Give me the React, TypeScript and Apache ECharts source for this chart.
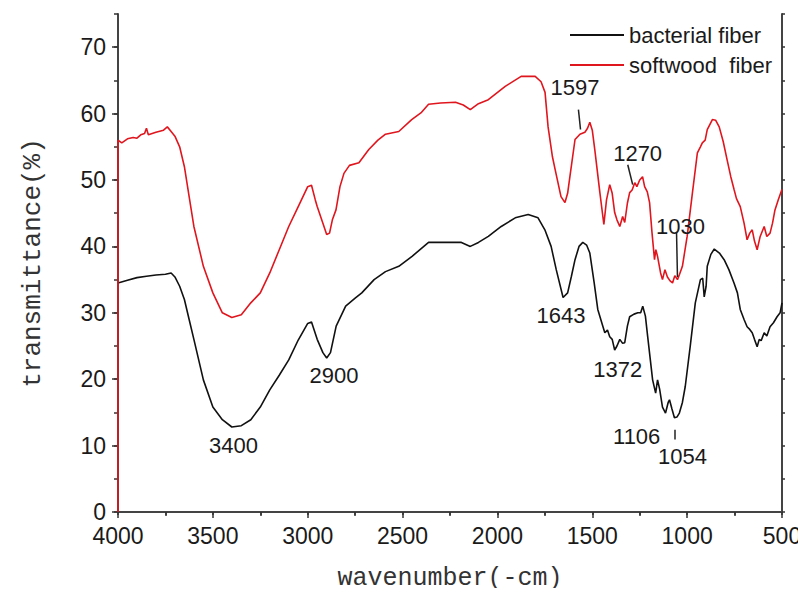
import React, { useEffect, useRef } from "react";
import * as echarts from "echarts";

// ---- data ----
const bacterialWn = [4000, 3950, 3900, 3850, 3800, 3750, 3720, 3700, 3675, 3650, 3625, 3600, 3550, 3500, 3450, 3400, 3350, 3300, 3250, 3200, 3150, 3100, 3050, 3000, 2980, 2950, 2920, 2900, 2880, 2850, 2800, 2750, 2715, 2650, 2590, 2520, 2450, 2363, 2300, 2190, 2143, 2100, 2048, 1980, 1906, 1838, 1786, 1750, 1717, 1690, 1654, 1630, 1610, 1591, 1570, 1550, 1530, 1513, 1490, 1471, 1450, 1434, 1420, 1408, 1395, 1382, 1370, 1355, 1340, 1329, 1315, 1303, 1280, 1260, 1245, 1234, 1220, 1208, 1182, 1166, 1156, 1145, 1130, 1114, 1100, 1093, 1080, 1067, 1054, 1041, 1025, 1010, 984, 957, 930, 918, 910, 900, 894, 875, 857, 830, 805, 780, 753, 735, 720, 700, 684, 670, 657, 645, 631, 620, 610, 594, 580, 563, 545, 526, 510, 500];
const bacterialT = [34.5, 34.9, 35.3, 35.5, 35.7, 35.8, 36.0, 35.4, 34.0, 32.0, 29.0, 26.0, 19.9, 15.8, 13.9, 12.8, 13.0, 13.9, 15.8, 18.4, 20.6, 22.9, 25.9, 28.4, 28.6, 26.0, 24.0, 23.2, 24.0, 28.0, 31.0, 32.2, 33.0, 35.0, 36.2, 37.0, 38.5, 40.6, 40.6, 40.6, 40.0, 40.6, 41.5, 43.0, 44.3, 44.8, 44.3, 42.5, 40.0, 36.5, 32.3, 33.0, 35.5, 38.0, 40.0, 40.6, 40.2, 39.0, 34.5, 30.5, 28.5, 27.0, 27.4, 26.4, 26.0, 24.4, 25.0, 26.0, 25.4, 25.5, 28.0, 29.4, 29.8, 30.0, 30.0, 31.0, 29.5, 26.4, 19.9, 17.9, 19.9, 18.5, 15.8, 14.9, 16.5, 16.9, 15.5, 14.2, 14.3, 14.9, 16.5, 18.9, 24.9, 31.5, 35.0, 35.2, 32.4, 34.0, 37.0, 38.8, 39.6, 39.0, 38.0, 36.5, 34.5, 33.0, 30.5, 29.0, 27.9, 27.5, 27.0, 26.0, 24.9, 26.0, 25.8, 27.0, 26.5, 27.9, 28.5, 29.4, 30.0, 31.5];

const softwoodWn = [4000, 4000, 3980, 3950, 3920, 3900, 3880, 3860, 3850, 3840, 3800, 3760, 3740, 3720, 3700, 3675, 3650, 3625, 3600, 3550, 3500, 3450, 3400, 3350, 3300, 3250, 3200, 3150, 3100, 3050, 3000, 2980, 2960, 2950, 2920, 2900, 2885, 2870, 2851, 2830, 2809, 2780, 2730, 2678, 2630, 2590, 2520, 2452, 2400, 2363, 2300, 2221, 2180, 2143, 2100, 2048, 1959, 1875, 1801, 1770, 1749, 1733, 1710, 1696, 1665, 1644, 1630, 1618, 1591, 1565, 1539, 1525, 1513, 1500, 1487, 1460, 1439, 1425, 1408, 1395, 1382, 1370, 1355, 1340, 1329, 1315, 1303, 1290, 1276, 1265, 1250, 1235, 1224, 1210, 1198, 1185, 1172, 1165, 1156, 1140, 1130, 1117, 1104, 1090, 1077, 1065, 1051, 1040, 1025, 1000, 972, 946, 930, 920, 905, 894, 867, 850, 831, 810, 789, 770, 753, 740, 720, 700, 684, 670, 657, 645, 631, 615, 594, 580, 563, 550, 537, 520, 500];
const softwoodT = [0, 56.0, 55.6, 56.2, 56.4, 56.3, 56.8, 57.0, 57.8, 56.8, 57.2, 57.5, 58.0, 57.3, 56.6, 55.0, 52.0, 47.5, 43.0, 37.0, 33.0, 30.0, 29.3, 29.7, 31.5, 33.0, 36.0, 39.5, 43.0, 46.0, 49.0, 49.2, 47.0, 46.0, 43.5, 41.8, 42.0, 44.0, 45.5, 49.0, 51.0, 52.2, 52.6, 54.6, 56.0, 56.9, 57.3, 59.1, 60.2, 61.4, 61.6, 61.7, 61.3, 60.6, 61.5, 62.1, 64.1, 65.6, 65.6, 64.8, 63.2, 58.0, 53.5, 51.6, 47.5, 46.6, 48.0, 50.5, 56.1, 56.9, 57.2, 57.8, 58.7, 57.5, 54.6, 48.1, 43.3, 47.0, 49.3, 48.0, 45.1, 44.0, 43.0, 44.5, 43.6, 46.5, 48.1, 48.5, 49.6, 49.0, 50.0, 50.5, 49.0, 48.2, 46.6, 42.0, 38.0, 39.5, 38.5, 36.0, 35.0, 36.5, 35.4, 34.8, 34.5, 35.6, 35.0, 35.8, 37.0, 41.5, 48.1, 54.1, 55.0, 55.6, 56.0, 57.6, 59.1, 59.0, 58.0, 55.8, 53.0, 50.5, 48.6, 47.2, 46.0, 43.5, 41.0, 42.0, 42.5, 40.8, 39.5, 41.5, 43.0, 41.5, 42.0, 43.5, 45.5, 47.0, 48.6];

// peak annotations: label text, wavenumber / transmittance where the label sits
const peakLabels = ["3400", "2900", "1643", "1372", "1106", "1054", "1597", "1270", "1030"];
const peakLabelWn = [3391, 2861, 1665, 1366, 1266, 1025, 1591, 1261, 1035];
const peakLabelT = [10.0, 20.5, 29.6, 21.4, 11.3, 8.3, 64.0, 54.0, 43.0];

// leader lines [wn1, t1, wn2, t2]
const leaderLines = [
  [1573, 60.6, 1562, 57.6],
  [1313, 52.3, 1287, 49.3],
  [1056, 42.2, 1051, 35.4],
  [1063, 12.4, 1063, 10.9],
];

const xTicks = [4000, 3500, 3000, 2500, 2000, 1500, 1000, 500];

const zip = (a: number[], b: number[]) => a.map((v, i) => [v, b[i]]);

const FONT = "Liberation Sans, Arial, sans-serif";
const SERIF_MONO = "Liberation Mono, Courier New, monospace";
const plain = (v: number) => String(v);

export default function App() {
  const ref = useRef<HTMLDivElement>(null);
  useEffect(() => {
    if (!ref.current) return;
    const chart = echarts.init(ref.current, undefined, { renderer: "svg" });
    const axisLineStyle = { color: "#444", width: 2 };
    const grid = { left: 118, right: 24, top: 14, bottom: 84 };
    const xBase = {
      type: "value" as const,
      min: xTicks[xTicks.length - 1],
      max: xTicks[0],
      inverse: true,
      splitLine: { show: false },
    };
    const yBase = {
      type: "value" as const,
      min: 0,
      max: 75,
      splitLine: { show: false },
    };
    chart.setOption({
      animation: false,
      backgroundColor: "#fff",
      grid,
      legend: {
        data: ["bacterial fiber", "softwood  fiber"],
        orient: "vertical",
        left: 565,
        top: 19,
        icon: "rect",
        itemWidth: 54,
        itemHeight: 2,
        itemGap: 8,
        textStyle: { fontFamily: FONT, fontSize: 22, color: "#1a1a1a", lineHeight: 22, padding: [0, 0, 0, 0] },
      },
      xAxis: [
        {
          ...xBase,
          position: "bottom",
          interval: 500,
          axisLine: { show: true, lineStyle: axisLineStyle },
          axisTick: { show: true, length: 6, lineStyle: { color: "#333", width: 1.5 } },
          minorTick: { show: true, splitNumber: 2, length: 4, lineStyle: { color: "#333", width: 1.5 } },
          axisLabel: { fontFamily: FONT, fontSize: 23, color: "#1a1a1a", margin: 12, formatter: plain },
          name: "wavenumber(-cm)",
          nameLocation: "middle",
          nameGap: 54,
          nameTextStyle: { fontFamily: SERIF_MONO, fontSize: 25, color: "#333" },
        },
        {
          ...xBase,
          position: "top",
          interval: 250,
          axisLine: { show: true, lineStyle: axisLineStyle },
          axisTick: { show: true, inside: true, length: 3, lineStyle: { color: "#333", width: 1.5 } },
          axisLabel: { show: false },
        },
      ],
      yAxis: [
        {
          ...yBase,
          position: "left",
          interval: 10,
          axisLine: { show: true, lineStyle: axisLineStyle },
          axisTick: { show: true, length: 6, lineStyle: { color: "#333", width: 1.5 } },
          axisLabel: { fontFamily: FONT, fontSize: 23, color: "#1a1a1a", margin: 12, showMaxLabel: false, formatter: plain },
          name: "transmittance(%)",
          nameLocation: "middle",
          nameGap: 72,
          nameTextStyle: { fontFamily: SERIF_MONO, fontSize: 26, color: "#333" },
        },
        {
          ...yBase,
          position: "left",
          interval: 5,
          axisLine: { show: false },
          axisTick: { show: true, length: 4, lineStyle: { color: "#333", width: 1.5 } },
          axisLabel: { show: false },
        },
        {
          ...yBase,
          position: "right",
          interval: 5,
          axisLine: { show: true, lineStyle: axisLineStyle },
          axisTick: { show: true, length: 3, lineStyle: { color: "#333", width: 1.5 } },
          axisLabel: { show: false },
        },
      ],
      series: [
        {
          name: "bacterial fiber",
          type: "line",
          data: zip(bacterialWn, bacterialT),
          showSymbol: false,
          symbol: "none",
          lineStyle: { color: "#111", width: 1.6 },
          itemStyle: { color: "#111" },
          z: 3,
        },
        {
          name: "softwood  fiber",
          type: "line",
          data: zip(softwoodWn, softwoodT),
          showSymbol: false,
          symbol: "none",
          lineStyle: { color: "#e0161e", width: 1.6 },
          itemStyle: { color: "#e0161e" },
          z: 4,
          markLine: {
            silent: true,
            symbol: "none",
            label: { show: false },
            lineStyle: { color: "#222", width: 1.5, type: "solid" },
            data: leaderLines.map((l) => [
              { coord: [l[0], l[1]] },
              { coord: [l[2], l[3]] },
            ]),
          },
        },
        {
          name: "peaks",
          type: "scatter",
          data: peakLabels.map((t, i) => ({ name: t, value: [peakLabelWn[i], peakLabelT[i]] })),
          symbolSize: 1,
          itemStyle: { color: "rgba(0,0,0,0)", opacity: 1 },
          silent: true,
          label: {
            show: true,
            position: "inside",
            formatter: "{b}",
            fontFamily: FONT,
            fontSize: 22,
            color: "#1a1a1a",
            textBorderWidth: 0,
          },
          z: 5,
        },
      ],
    });
    return () => chart.dispose();
  }, []);
  return <div ref={ref} style={{ width: 806, height: 596, margin: -8 }} />;
}
